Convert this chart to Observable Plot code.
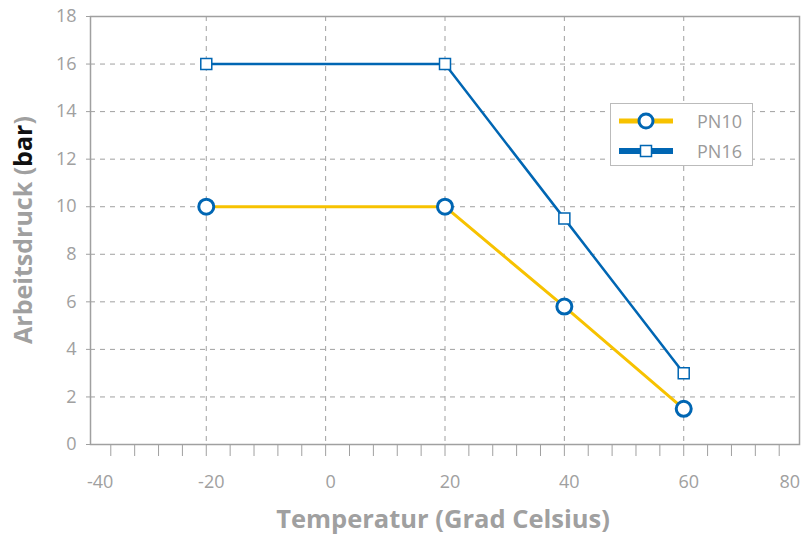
<!DOCTYPE html>
<html>
<head>
<meta charset="utf-8">
<script src="https://cdn.jsdelivr.net/npm/d3@7"></script>
<script src="https://cdn.jsdelivr.net/npm/@observablehq/plot@0.6"></script>
<style>
  html, body { margin: 0; padding: 0; background: #fff; }
  #wrap { position: relative; width: 801px; height: 538px; font-family: "Open Sans", sans-serif; }
  #legend { position: absolute; left: 610px; top: 103px; width: 143px; height: 63px; border: 1px solid #bbb; background: #fff; box-sizing: border-box; }
  .item { position: absolute; left: 6px; height: 20px; display: flex; align-items: center; }
  .item span { position: absolute; left: 80px; font-size: 18px; color: #9a9a9a; line-height: 20px; }
</style>
</head>
<body>
<div id="wrap"></div>
<script>
const temperature = [-20, 20, 40, 60];
const pn10 = [10, 10, 5.8, 1.5];
const pn16 = [16, 16, 9.5, 3];
const xTickLabels = [-40, -20, 0, 20, 40, 60, 80];
const xGrid = [-20, 0, 20, 40, 60];
const xMinor = [-36,-32,-28,-24,-20,-16,-12,-8,-4,0,4,8,12,16,20,24,28,32,36,40,44,48,52,56,60,64,68,72,76];
const yTickLabels = [0, 2, 4, 6, 8, 10, 12, 14, 16, 18];
const seriesNames = ["PN10", "PN16"];

const yellow = "#f7c200";
const blue = "#0066b3";
const gray = "#a0a0a0";

const d10 = temperature.map((t, i) => ({t, v: pn10[i]}));
const d16 = temperature.map((t, i) => ({t, v: pn16[i]}));
const fmt = d => String(d);

const chart = Plot.plot({
  width: 801,
  height: 538,
  marginLeft: 90,
  marginRight: 2,
  marginTop: 16,
  marginBottom: 94,
  style: {fontFamily: "Open Sans, sans-serif", background: "#fff"},
  x: {domain: [-39.4, 79.4]},
  y: {domain: [0, 18]},
  marks: [
    Plot.gridX(xGrid, {stroke: gray, strokeOpacity: 1, strokeDasharray: "5,5"}),
    Plot.gridY(yTickLabels.slice(1, -1), {stroke: gray, strokeOpacity: 1, strokeDasharray: "5,5"}),
    Plot.axisX(xMinor, {tickSize: 12, tickFormat: () => "", stroke: gray, strokeOpacity: 1, label: null}),
    Plot.axisX(xTickLabels.slice(0, 1), {tickSize: 0, tickPadding: 31, fontSize: 18, fill: gray, textAnchor: "start", tickFormat: fmt, label: null}),
    Plot.axisX(xTickLabels.slice(1, -1), {tickSize: 0, tickPadding: 31, fontSize: 18, fill: gray, dx: 5, tickFormat: fmt, label: null}),
    Plot.axisX(xTickLabels.slice(-1), {tickSize: 0, tickPadding: 31, fontSize: 18, fill: gray, textAnchor: "end", dx: -3, tickFormat: fmt, label: null}),
    Plot.axisY(yTickLabels, {tickSize: 4, tickPadding: 10, fontSize: 18, fill: gray, stroke: gray, strokeOpacity: 1, tickFormat: fmt, label: null}),
    Plot.frame({stroke: gray, strokeWidth: 1.5}),
    Plot.line(d10, {x: "t", y: "v", stroke: yellow, strokeWidth: 3}),
    Plot.line(d16, {x: "t", y: "v", stroke: blue, strokeWidth: 2.5}),
    Plot.dot(d16, {x: "t", y: "v", symbol: "square", r: 6.2, fill: "#fff", stroke: blue, strokeWidth: 1.5}),
    Plot.dot(d10, {x: "t", y: "v", r: 7.5, fill: "#fff", stroke: blue, strokeWidth: 3})
  ]
});

const svg = d3.select(chart);
svg.append("text")
  .attr("x", 443).attr("y", 528)
  .attr("text-anchor", "middle")
  .attr("font-size", 25.5).attr("font-weight", "bold")
  .attr("fill", gray)
  .text("Temperatur (Grad Celsius)");
const yt = svg.append("text")
  .attr("transform", "translate(32,230) rotate(-90)")
  .attr("text-anchor", "middle")
  .attr("font-size", 25).attr("font-weight", "bold")
  .attr("fill", gray);
yt.append("tspan").text("Arbeitsdruck (");
yt.append("tspan").attr("fill", "#111").text("bar");
yt.append("tspan").text(")");

document.getElementById("wrap").appendChild(chart);

const legend = document.createElement("div");
legend.id = "legend";
legend.innerHTML = `
  <div class="item" style="top:7px">
    <svg width="60" height="20"><line x1="2" y1="10" x2="56" y2="10" stroke="${yellow}" stroke-width="5"/><circle cx="29" cy="10" r="7" fill="#fff" stroke="${blue}" stroke-width="3"/></svg>
    <span>${seriesNames[0]}</span>
  </div>
  <div class="item" style="top:37px">
    <svg width="60" height="20"><line x1="2" y1="10" x2="56" y2="10" stroke="${blue}" stroke-width="6"/><rect x="23.5" y="4.5" width="11" height="11" fill="#fff" stroke="${blue}" stroke-width="1.5"/></svg>
    <span>${seriesNames[1]}</span>
  </div>`;
document.getElementById("wrap").appendChild(legend);
</script>
</body>
</html>
